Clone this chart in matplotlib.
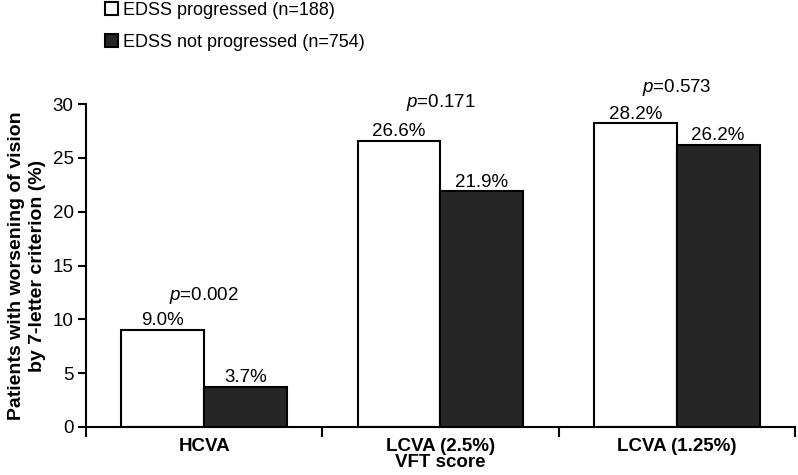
import numpy as np
import matplotlib
matplotlib.use('Agg')
import matplotlib.pyplot as plt
from matplotlib.patches import Patch

plt.rcParams['font.family'] = ['Liberation Sans', 'DejaVu Sans']
plt.rcParams['mathtext.fontset'] = 'custom'
plt.rcParams['mathtext.rm'] = 'Liberation Sans'
plt.rcParams['mathtext.it'] = 'Liberation Sans:italic'

categories = ['HCVA', 'LCVA (2.5%)', 'LCVA (1.25%)']
progressed = [9.0, 26.6, 28.2]
not_progressed = [3.7, 21.9, 26.2]
p_labels = ['0.002', '0.171', '0.573']
p_ypos = [12.2, 30.1, 31.5]
series_names = ['EDSS progressed (n=188)', 'EDSS not progressed (n=754)']

DARK = '#262626'
FS = 13.5

fig = plt.figure(figsize=(7.98, 4.75), dpi=100)
ax = fig.add_axes([0.1078, 0.1011, 0.8884, 0.6799])

x = np.arange(len(categories))
w = 0.35
b1 = ax.bar(x - w/2, progressed, w, color='white', edgecolor='black', linewidth=1.5)
b2 = ax.bar(x + w/2, not_progressed, w, color=DARK, edgecolor='black', linewidth=1.5)

for bars, vals in ((b1, progressed), (b2, not_progressed)):
    for bar, v in zip(bars, vals):
        ax.annotate(f'{v:.1f}%', xy=(bar.get_x() + bar.get_width()/2, v),
                    xytext=(0, 0.5), textcoords='offset points',
                    ha='center', va='bottom', fontsize=FS)

for xi, p, yp in zip(x, p_labels, p_ypos):
    ax.text(xi, yp, f'$p$={p}', ha='center', va='center', fontsize=FS, clip_on=False)

ax.set_xlim(-0.5, 2.5)
ax.set_ylim(0, 30)
ax.set_yticks([0, 5, 10, 15, 20, 25, 30])
ax.set_xticks(x)
ax.set_xticklabels(categories, fontsize=FS, fontweight='bold')
ax.set_xticks([-0.5, 0.5, 1.5, 2.5], minor=True)
ax.tick_params(axis='x', which='major', length=0, pad=8)
ax.tick_params(axis='x', which='minor', length=7, width=1.5, direction='out')
ax.tick_params(axis='y', length=6, width=1.5, labelsize=FS, pad=3)

for s in ('top', 'right'):
    ax.spines[s].set_visible(False)
for s in ('left', 'bottom'):
    ax.spines[s].set_linewidth(1.5)

ax.set_xlabel('VFT score', fontsize=FS, fontweight='bold', labelpad=-1)
ax.set_ylabel('Patients with worsening of vision\nby 7-letter criterion (%)',
              fontsize=14, fontweight='bold', labelpad=5, linespacing=1.25)

handles = [Patch(facecolor='white', edgecolor='black', linewidth=1.5),
           Patch(facecolor=DARK, edgecolor='black', linewidth=1.5)]
fig.legend(handles, series_names, loc='upper left', bbox_to_anchor=(0.122, 1.012),
           frameon=False, fontsize=13, handlelength=0.75, handleheight=0.75,
           handletextpad=0.25, labelspacing=0.85, borderaxespad=0)

fig.savefig('out.png', dpi=100)
plt.close()
